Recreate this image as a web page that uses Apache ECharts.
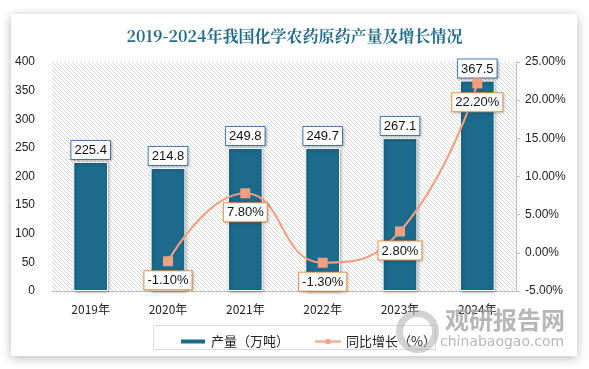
<!DOCTYPE html>
<html><head><meta charset="utf-8">
<script src="https://cdn.jsdelivr.net/npm/echarts@6/dist/echarts.min.js"></script>
<style>html,body{margin:0;padding:0;background:#ffffff;}#c{width:589px;height:369px;}</style>
</head><body><div id="c"></div>
<script>
var categories = ['2019年','2020年','2021年','2022年','2023年','2024年'];
var output = [225.4, 214.8, 249.8, 249.7, 267.1, 367.5];
var growth = [null, -1.1, 7.8, -1.3, 2.8, 22.2];

var pc = document.createElement('canvas');
pc.width = 4; pc.height = 4;
var g = pc.getContext('2d');
g.fillStyle = '#ffffff'; g.fillRect(0,0,4,4);
g.strokeStyle = '#d6d6d6'; g.lineWidth = 1;
g.beginPath(); g.moveTo(0,0); g.lineTo(4,4); g.moveTo(-2,2); g.lineTo(2,6); g.moveTo(2,-2); g.lineTo(6,2); g.stroke();

var numFont = '"Liberation Sans", Arial, sans-serif';
var chart = echarts.init(document.getElementById('c'));
chart.setOption({
  animation: false,
  graphic: [
    {type:'rect', left:11, top:14, shape:{width:566, height:342}, style:{fill:'#fff', shadowBlur:10, shadowOffsetY:2, shadowColor:'rgba(0,0,0,0.28)'}, z:-10},
    {type:'rect', left:52, top:62, shape:{width:464, height:229}, style:{fill:{image:pc, repeat:'repeat'}}, z:-5},
    {type:'rect', left:153, top:325, shape:{width:282, height:24}, style:{fill:'#fff', stroke:'#d9d9d9', lineWidth:1}, z:-4},
    {type:'circle', left:396, top:310, shape:{r:18}, style:{fill:'none', stroke:'rgba(175,175,175,0.55)', lineWidth:7}, z:50},
    {type:'text', left:445, top:308, style:{text:'观研报告网', fill:'rgba(165,165,165,0.8)', font:'bold 24px "Noto Sans CJK SC"'}, z:50},
    {type:'text', left:440, top:335, style:{text:'chinabaogao.com', fill:'rgba(165,165,165,0.8)', font:'14px "DejaVu Sans"'}, z:50}
  ],
  title: {
    text: '2019-2024年我国化学农药原药产量及增长情况',
    left: 'center', top: 23,
    textStyle: {color:'#1f6c8c', fontSize:16, fontWeight:'bold', fontFamily:'"Noto Serif CJK SC","Noto Sans CJK SC",serif'}
  },
  legend: {
    left: 174, top: 330, itemGap: 25, itemWidth: 26, itemHeight: 6,
    textStyle: {fontSize: 13, color:'#222', fontFamily:'"Noto Sans CJK SC"'},
    data: [{name:'产量（万吨）', icon:'rect'}, {name:'同比增长（%）'}]
  },
  grid: {left:52, right:73, top:62, bottom:78},
  xAxis: {
    type:'category', data: categories,
    axisLine:{lineStyle:{color:'#bfbfbf'}}, axisTick:{show:false},
    axisLabel:{color:'#222', fontSize:12, margin:12, fontFamily:'"Noto Sans CJK SC"'}
  },
  yAxis: [
    {type:'value', min:0, max:400, interval:50, splitLine:{show:false}, axisLine:{show:false}, axisTick:{show:false},
     axisLabel:{color:'#222', fontSize:12, margin:17, fontFamily:numFont}},
    {type:'value', min:-5, max:25, interval:5, splitLine:{show:false},
     axisLine:{show:true, lineStyle:{color:'#bfbfbf'}}, axisTick:{show:true, length:4, lineStyle:{color:'#bfbfbf'}},
     axisLabel:{color:'#222', fontSize:12, margin:9, fontFamily:numFont, formatter: function(v){return v.toFixed(2)+'%';}}}
  ],
  series: [
    {name:'产量（万吨）', type:'bar', data: output, barWidth:'45%',
     itemStyle:{color:'#1c6a8c', borderColor:'#fff', borderWidth:1, shadowBlur:3, shadowOffsetX:1, shadowOffsetY:1, shadowColor:'rgba(0,0,0,0.3)'},
     label:{show:true, position:'top', distance:3, color:'#111', fontSize:13, fontFamily:numFont, backgroundColor:'#fff', borderColor:'#4f81bd', borderWidth:1, padding:[3,3,2,3],
       shadowColor:'rgba(0,0,0,0.25)', shadowBlur:3, shadowOffsetX:1, shadowOffsetY:1, formatter:function(p){return p.value.toFixed(1);}}},
    {name:'同比增长（%）', type:'line', yAxisIndex:1, data: growth, smooth:true, connectNulls:false,
     symbol:'rect', symbolSize:10, lineStyle:{color:'#f0a07e', width:2}, itemStyle:{color:'#f0a07e'},
     label:{show:true, position:'bottom', distance:5, color:'#111', fontSize:13, fontFamily:numFont, backgroundColor:'#fff', borderColor:'#f79646', borderWidth:1, padding:[3,3,2,3],
       shadowColor:'rgba(0,0,0,0.2)', shadowBlur:3, shadowOffsetX:1, shadowOffsetY:1,
       formatter:function(p){return p.value.toFixed(2)+'%';}}}
  ]
});
</script></body></html>
